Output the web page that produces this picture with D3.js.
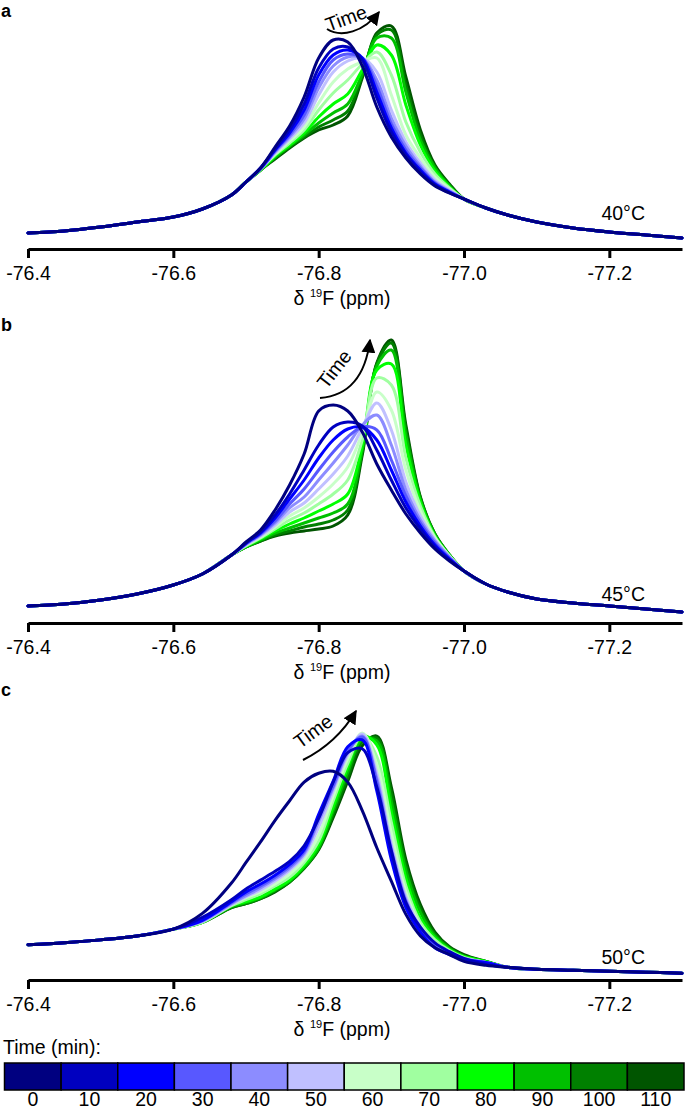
<!DOCTYPE html>
<html><head><meta charset="utf-8">
<script src="https://cdn.jsdelivr.net/npm/d3@7"></script>
<style>
body{margin:0;background:#fff}
svg{display:block}
text{font-family:"Liberation Sans",Arial,sans-serif;fill:#000}
</style>
</head><body>
<svg id="chart" width="685" height="1112"></svg>
<script>
// ---------- DATA ----------
const times = [0,10,20,30,40,50,60,70,80,90,100,110];
const timeColors = ["#000080","#0000C0","#0000FF","#5858FF","#8C8CFF","#C0C0FF","#C8FFC8","#A0FFA0","#00FF00","#00C000","#008000","#005500"];
const ppm = [-76.40,-76.45,-76.50,-76.55,-76.60,-76.64,-76.68,-76.70,-76.72,-76.74,-76.76,-76.78,-76.80,-76.82,-76.84,-76.86,-76.88,-76.90,-76.92,-76.94,-76.96,-76.98,-77.00,-77.03,-77.06,-77.10,-77.15,-77.20,-77.25,-77.30];
const tickValues = [-76.4,-76.6,-76.8,-77.0,-77.2];
const panelLetters = ["a","b","c"];
const temperatures = ["40°C","45°C","50°C"];

// intensity (a.u.) at each ppm point, one row per time (0..110 min)
const spectraA = [
 [17,19,23,28,33,41,55,68, 82,103,124,153,192,210,208,184,143,113,92,76,64,57,51, 42,35,28,22,18,15,12],
 [17,19,23,28,33,41,55,68, 82,101,120,146,182,201,203,190,152,118,95,78,65,57,51, 42,35,28,22,18,15,12],
 [17,19,23,28,33,41,55,68, 82,100,117,140,175,195,200,192,158,122,97,80,66,58,51, 42,35,28,22,18,15,12],
 [17,19,23,28,33,41,55,68, 81,99,115,135,168,190,196,192,164,126,100,82,67,58,51, 42,35,28,22,18,15,12],
 [17,19,23,28,33,41,55,68, 81,98,113,131,162,184,193,192,170,132,104,84,68,59,51, 42,35,28,22,18,15,12],
 [17,19,23,28,33,41,55,68, 81,97,111,127,155,178,189,192,178,140,108,87,70,60,51, 42,35,28,22,18,15,12],
 [17,19,23,28,33,41,55,68, 81,96,109,123,147,168,181,188,192,155,115,92,73,61,51, 42,35,28,22,18,15,12],
 [17,19,23,28,33,41,55,68, 81,95,107,120,140,157,170,186,198,175,128,98,76,62,51, 42,35,28,22,18,15,12],
 [17,19,23,28,33,41,55,68, 80,94,105,117,133,146,156,180,205,195,145,105,79,63,51, 42,35,28,22,18,15,12],
 [17,19,23,28,33,41,55,68, 80,93,104,115,127,137,146,176,212,212,158,110,82,64,51, 42,35,28,22,18,15,12],
 [17,19,23,28,33,41,55,68, 80,92,103,113,123,130,139,174,215,220,165,115,83,65,51, 42,35,28,22,18,15,12],
 [17,19,23,28,33,41,55,68, 80,91,102,112,120,125,134,172,217,224,173,120,85,66,51, 42,35,28,22,18,15,12]
];
const spectraB = [
 [17,19,23,29,38,49,68,81, 93,113,138,169,212,218,212,191,159,133,109,90,74,62,52, 39,31,24,20,17,14,11],
 [17,19,23,29,38,49,68,80, 91,108,129,153,178,196,201,197,173,143,115,94,76,63,52, 39,31,24,20,17,14,11],
 [17,19,23,29,38,49,68,80, 90,105,124,143,165,183,194,196,183,153,121,97,78,64,52, 39,31,24,20,17,14,11],
 [17,19,23,29,38,49,68,79, 89,102,119,134,153,171,186,196,193,163,127,100,80,65,52, 39,31,24,20,17,14,11],
 [17,19,23,29,38,49,68,79, 88,100,115,126,143,160,178,198,208,178,133,103,82,66,52, 39,31,24,20,17,14,11],
 [17,19,23,29,38,49,68,78, 87,98,111,120,134,149,167,195,220,193,141,107,83,66,52, 39,31,24,20,17,14,11],
 [17,19,23,29,38,49,68,78, 86,96,107,115,126,139,156,190,231,213,153,112,85,67,52, 39,31,24,20,17,14,11],
 [17,19,23,29,38,49,68,77, 85,94,103,110,119,129,143,183,245,238,165,117,86,67,52, 39,31,24,20,17,14,11],
 [17,19,23,29,38,49,68,77, 84,92,99,105,112,119,129,177,253,259,178,121,87,67,52, 39,31,24,20,17,14,11],
 [17,19,23,29,38,49,68,76, 83,90,95,100,105,110,119,173,257,273,188,123,88,68,52, 39,31,24,20,17,14,11],
 [17,19,23,29,38,49,68,76, 82,88,92,96,99,103,113,171,259,280,194,125,89,68,52, 39,31,24,20,17,14,11],
 [17,19,23,29,38,49,68,76, 82,87,90,92,94,97,108,168,260,283,198,126,89,68,52, 39,31,24,20,17,14,11]
];
const spectraC = [
 [39,41,44,48,55,71, 102,123,144,166,186,205,214,216,205,176,138,104,70,48,36,29,22, 18, 16,14,13,12,11,10],
 [39,41,44,48,55,67, 85,96,105,114,124,140,168,205,235,239,200,135,82,57,41,32,25, 19, 16,14,13,12,11,10],
 [39,41,44,48,55,64, 83,93,101,110,121,136,172,206,241,248,196,126,77,52,36,29,24, 21, 16,14,13,12,11,10],
 [39,41,44,48,55,64, 82,91,99,108,119,134,169,201,237,251,205,134,83,54,37,30,24, 21, 16,14,13,12,11,10],
 [39,41,44,48,55,63, 81,89,97,106,117,132,165,199,235,252,209,138,85,55,38,30,25, 21, 16,14,13,12,11,10],
 [39,41,44,48,55,63, 80,88,95,104,115,130,159,196,233,254,214,142,88,57,39,31,25, 21, 16,14,13,12,11,10],
 [39,41,44,48,55,63, 80,87,93,101,111,126,151,191,229,255,223,153,93,59,41,32,25, 21, 16,14,13,12,11,10],
 [39,41,44,48,55,62, 79,85,91,99,108,123,145,186,224,253,231,164,99,62,44,33,26, 21, 16,14,13,12,11,10],
 [39,41,44,48,55,62, 79,83,88,96,105,120,141,180,220,252,243,175,107,66,46,34,27, 22, 16,14,13,12,11,10],
 [39,41,44,48,55,62, 78,82,87,95,104,118,138,176,215,249,247,185,115,72,48,35,27, 22, 16,14,13,12,11,10],
 [39,41,44,48,55,62, 77,81,86,94,103,117,137,172,210,246,250,194,121,76,50,36,28, 22, 16,14,13,12,11,10],
 [39,41,44,48,55,62, 77,81,86,93,103,117,136,169,206,242,252,200,126,80,52,37,29, 22, 16,14,13,12,11,10]
];
const allSpectra = [spectraA, spectraB, spectraC];

// ---------- LAYOUT ----------
const FS = 19.5;
const layout = [
 {axisY:249, base:250, k:1.0, letterY:17, tempY:220,
  arrow:"M327,29 C341,38 364,32 379,12", timeX:346, timeY:18, timeRot:-20},
 {axisY:623, base:623, k:1.0, letterY:331, tempY:601,
  arrow:"M320,398 C346,396 365,380 370,340", timeX:334, timeY:369, timeRot:-52},
 {axisY:980, base:983, k:0.98, letterY:696, tempY:964,
  arrow:"M303,760 C325,749 344,731 356,711", timeX:313, timeY:731, timeRot:-36}
];

const svg = d3.select("#chart");
const x = d3.scaleLinear().domain([-76.4,-77.3]).range([28,682]);

svg.append("defs").append("marker").attr("id","ah").attr("viewBox","0 0 10 10")
  .attr("refX",9).attr("refY",5).attr("markerWidth",14).attr("markerHeight",14)
  .attr("markerUnits","userSpaceOnUse").attr("orient","auto")
  .append("path").attr("d","M0,0 L10,5 L0,10 z").attr("fill","#000");

allSpectra.forEach((spectra, p) => {
  const L = layout[p];
  const y = d3.scaleLinear().domain([0,240]).range([L.base, L.base-240*L.k]);
  const g = svg.append("g");
  const line = d3.line().x((d,i)=>x(ppm[i])).y(d=>y(d)).curve(d3.curveCatmullRom.alpha(0.5));
  for (let k = spectra.length-1; k >= 0; k--) {
    g.append("path").attr("d", line(spectra[k]))
      .attr("fill","none").attr("stroke", timeColors[k])
      .attr("stroke-width",3).attr("stroke-linejoin","round").attr("stroke-linecap","round");
  }
  const ax = g.append("g").attr("transform",`translate(0,${L.axisY})`)
    .call(d3.axisBottom(x).tickValues(tickValues).tickFormat(d=>d.toFixed(1))
      .tickSize(9).tickSizeOuter(0).tickPadding(8));
  ax.select(".domain").attr("stroke","#000").attr("stroke-width",3);
  ax.selectAll(".tick line").attr("stroke","#000").attr("stroke-width",3);
  ax.selectAll(".tick text").attr("font-size",FS).attr("font-family","Liberation Sans, Arial, sans-serif").attr("fill","#000");
  const t = g.append("text").attr("x",342).attr("y",L.axisY+56).attr("text-anchor","middle").attr("font-size",FS);
  t.append("tspan").text("δ ");
  t.append("tspan").text("19").attr("font-size",11).attr("dy",-8);
  t.append("tspan").text("F (ppm)").attr("dy",8);
  g.append("text").attr("x",1).attr("y",L.letterY).attr("font-size",18).attr("font-weight","bold").text(panelLetters[p]);
  g.append("text").attr("x",645).attr("y",L.tempY).attr("text-anchor","end").attr("font-size",FS).text(temperatures[p]);
  g.append("path").attr("d",L.arrow).attr("fill","none").attr("stroke","#000").attr("stroke-width",2).attr("marker-end","url(#ah)");
  g.append("text").attr("transform",`translate(${L.timeX},${L.timeY}) rotate(${L.timeRot})`)
    .attr("text-anchor","middle").attr("dominant-baseline","central").attr("font-size",FS).text("Time");
});

// ---------- LEGEND ----------
svg.append("text").attr("x",3).attr("y",1054).attr("font-size",FS).text("Time (min):");
const band = d3.scaleBand().domain(times).range([4.5,684]).paddingInner(0);
const lg = svg.append("g");
lg.selectAll("rect").data(times).join("rect")
  .attr("x",d=>band(d)).attr("y",1063).attr("width",band.bandwidth()).attr("height",27)
  .attr("fill",(d,i)=>timeColors[i]).attr("stroke","#000").attr("stroke-width",1.5);
lg.selectAll("text").data(times).join("text")
  .attr("x",d=>band(d)+band.bandwidth()/2).attr("y",1106).attr("text-anchor","middle")
  .attr("font-size",FS).text(d=>d);
</script>
</body></html>
